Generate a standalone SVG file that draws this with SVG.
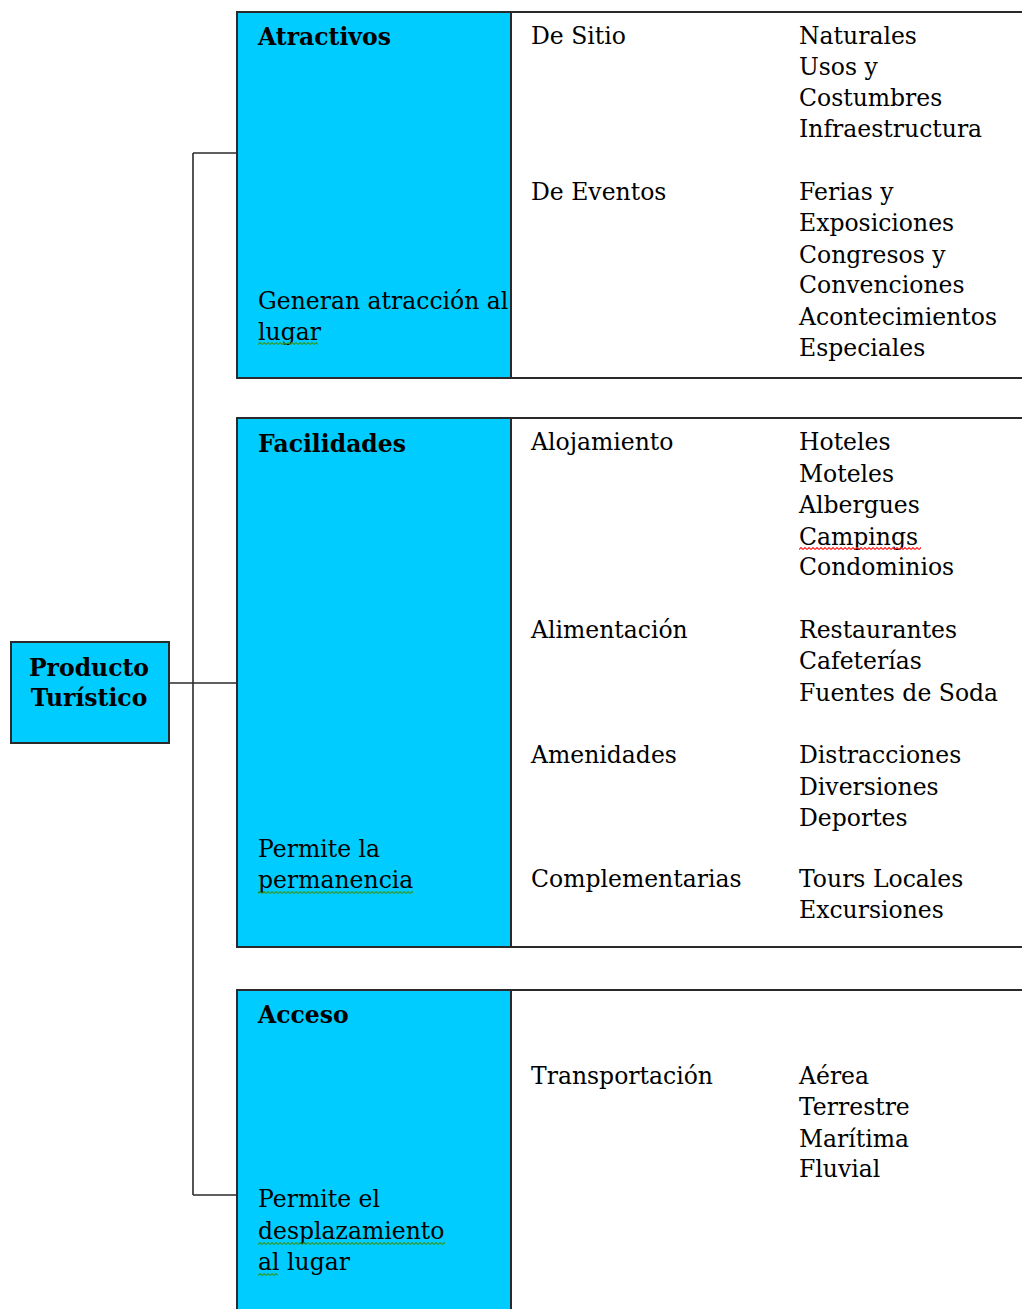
<svg xmlns="http://www.w3.org/2000/svg" width="1022" height="1309" viewBox="0 0 1022 1309">
  <style>
    .t { font-family: "DejaVu Serif", "Liberation Serif", serif; font-size: 23.5px; fill: #000; }
    .b { font-weight: bold; }
    .blue { fill: #00CCFF; stroke: #2a2a2a; stroke-width: 2; }
    .cell { fill: #ffffff; stroke: #2a2a2a; stroke-width: 2; }
    .wire { fill: none; stroke: #2a2a2a; stroke-width: 1.6; }
  </style>
  <defs>
    <!-- wavy spell-check underline tiles -->
    <pattern id="wave-g" width="4" height="3" patternUnits="userSpaceOnUse">
      <path d="M0 2.5 L2 0.5 L4 2.5" fill="none" stroke="#2e9a2e" stroke-width="1.1"/>
    </pattern>
    <pattern id="wave-r" width="4" height="3" patternUnits="userSpaceOnUse">
      <path d="M0 2.5 L2 0.5 L4 2.5" fill="none" stroke="#ff2020" stroke-width="1.1"/>
    </pattern>
  </defs>
  <rect width="1022" height="1309" fill="#ffffff"/>

  <!-- connectors from the root node to the three branches -->
  <g id="connectors">
    <path class="wire" d="M169 683 H237"/>
    <path class="wire" d="M193 153 V1195"/>
    <path class="wire" d="M193 153 H237"/>
    <path class="wire" d="M193 1195 H237"/>
  </g>

  <!-- root node -->
  <g id="producto">
    <rect class="blue" x="11" y="642" width="158" height="101"/>
    <text class="t b" x="89" y="676" text-anchor="middle">Producto</text>
    <text class="t b" x="89" y="706" text-anchor="middle">Turístico</text>
  </g>

  <!-- branch 1: Atractivos -->
  <g id="atractivos">
    <rect class="cell" x="237" y="12" width="800" height="366"/>
    <rect class="blue" x="237" y="12" width="274" height="366"/>
    <text class="t b" x="258" y="45">Atractivos</text>
    <text class="t" x="258" y="309">Generan atracción al</text>
    <text class="t" x="258" y="340">lugar</text>
    <g transform="translate(258 342)"><rect width="60" height="3" fill="url(#wave-g)"/></g>
    <text class="t" x="531" y="44">De Sitio</text>
    <text class="t" x="799" y="44">Naturales</text>
    <text class="t" x="799" y="75">Usos y</text>
    <text class="t" x="799" y="106">Costumbres</text>
    <text class="t" x="799" y="137">Infraestructura</text>
    <text class="t" x="531" y="200">De Eventos</text>
    <text class="t" x="799" y="200">Ferias y</text>
    <text class="t" x="799" y="231">Exposiciones</text>
    <text class="t" x="799" y="263">Congresos y</text>
    <text class="t" x="799" y="293">Convenciones</text>
    <text class="t" x="799" y="325">Acontecimientos</text>
    <text class="t" x="799" y="356">Especiales</text>
  </g>

  <!-- branch 2: Facilidades -->
  <g id="facilidades">
    <rect class="cell" x="237" y="418" width="800" height="529"/>
    <rect class="blue" x="237" y="418" width="274" height="529"/>
    <text class="t b" x="258" y="452">Facilidades</text>
    <text class="t" x="258" y="857">Permite la</text>
    <text class="t" x="258" y="888">permanencia</text>
    <g transform="translate(258 891)"><rect width="155" height="3" fill="url(#wave-g)"/></g>
    <text class="t" x="531" y="450">Alojamiento</text>
    <text class="t" x="799" y="450">Hoteles</text>
    <text class="t" x="799" y="482">Moteles</text>
    <text class="t" x="799" y="513">Albergues</text>
    <text class="t" x="799" y="545">Campings</text>
    <g transform="translate(799 547)"><rect width="122" height="3" fill="url(#wave-r)"/></g>
    <text class="t" x="799" y="575">Condominios</text>
    <text class="t" x="531" y="638">Alimentación</text>
    <text class="t" x="799" y="638">Restaurantes</text>
    <text class="t" x="799" y="669">Cafeterías</text>
    <text class="t" x="799" y="701">Fuentes de Soda</text>
    <text class="t" x="531" y="763">Amenidades</text>
    <text class="t" x="799" y="763">Distracciones</text>
    <text class="t" x="799" y="795">Diversiones</text>
    <text class="t" x="799" y="826">Deportes</text>
    <text class="t" x="531" y="887">Complementarias</text>
    <text class="t" x="799" y="887">Tours Locales</text>
    <text class="t" x="799" y="918">Excursiones</text>
  </g>

  <!-- branch 3: Acceso -->
  <g id="acceso">
    <rect class="cell" x="237" y="990" width="800" height="340"/>
    <rect class="blue" x="237" y="990" width="274" height="340"/>
    <text class="t b" x="258" y="1023">Acceso</text>
    <text class="t" x="258" y="1207">Permite el</text>
    <text class="t" x="258" y="1239">desplazamiento</text>
    <g transform="translate(258 1242)"><rect width="187" height="3" fill="url(#wave-g)"/></g>
    <text class="t" x="258" y="1270">al lugar</text>
    <g transform="translate(258 1273)"><rect width="20" height="3" fill="url(#wave-g)"/></g>
    <text class="t" x="531" y="1084">Transportación</text>
    <text class="t" x="799" y="1084">Aérea</text>
    <text class="t" x="799" y="1115">Terrestre</text>
    <text class="t" x="799" y="1147">Marítima</text>
    <text class="t" x="799" y="1177">Fluvial</text>
  </g>
</svg>
